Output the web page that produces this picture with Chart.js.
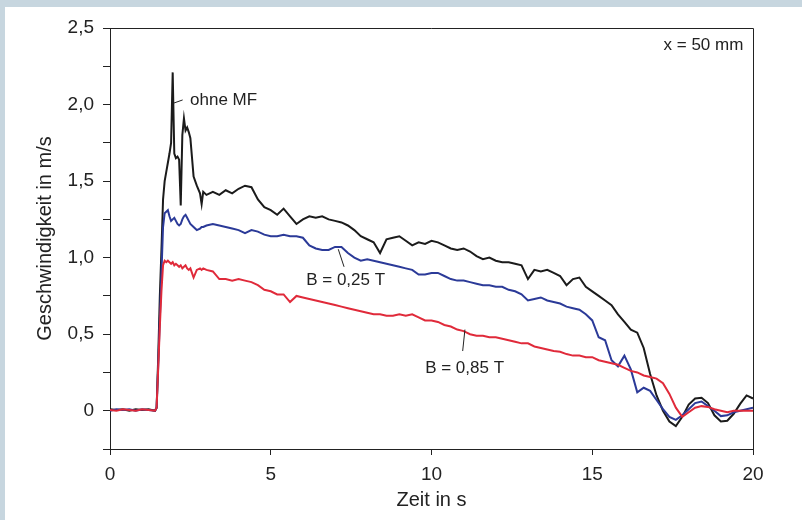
<!DOCTYPE html>
<html>
<head>
<meta charset="utf-8">
<script src="https://cdn.jsdelivr.net/npm/chart.js@4.4.1/dist/chart.umd.min.js"></script>
<style>
  html, body { margin: 0; padding: 0; background: #c7d6df; }
  #frame { width: 802px; height: 520px; overflow: hidden; }
  #myChart { display: block; margin: 7px 0 0 5px; background: #fff; }
</style>
</head>
<body>
<div id="frame"><canvas id="myChart" width="797" height="513"></canvas></div>
<script>
// Zeit in s (finer steps around the start-up peaks)
const zeit = [
	0, 0.2, 0.4, 0.6, 0.8, 1.0, 1.2, 1.4,
	1.45, 1.5, 1.55, 1.6, 1.65, 1.7, 1.75, 1.8, 1.85, 1.9, 1.95, 2.0, 2.05, 2.1, 2.15, 2.2, 2.25, 2.3, 2.35, 2.4, 2.45, 2.5,
	2.6, 2.7, 2.8, 2.85, 2.9, 3.0,
	3.2, 3.4, 3.6, 3.8, 4.0,
	4.2, 4.4, 4.6, 4.8, 5.0,
	5.2, 5.4, 5.6, 5.8, 6.0,
	6.2, 6.4, 6.6, 6.8, 7.0,
	7.2, 7.4, 7.6, 7.8, 8.0,
	8.2, 8.4, 8.6, 8.8, 9.0,
	9.2, 9.4, 9.6, 9.8, 10.0,
	10.2, 10.4, 10.6, 10.8, 11.0,
	11.2, 11.4, 11.6, 11.8, 12.0,
	12.2, 12.4, 12.6, 12.8, 13.0,
	13.2, 13.4, 13.6, 13.8, 14.0,
	14.2, 14.4, 14.6, 14.8, 15.0,
	15.2, 15.4, 15.6, 15.8, 16.0,
	16.2, 16.4, 16.6, 16.8, 17.0,
	17.2, 17.4, 17.6, 17.8, 18.0,
	18.2, 18.4, 18.6, 18.8, 19.0,
	19.2, 19.4, 19.6, 19.8, 20.0
];

// Geschwindigkeit in m/s, ohne Magnetfeld
const ohneMF = [
	0.01, 0.005, 0.01, 0.0, 0.01, 0.005, 0.01, 0.0,
	0.02, 0.35, 0.75, 1.05, 1.38, 1.50, 1.56, 1.62, 1.68, 1.75, 2.21, 1.68, 1.65, 1.66, 1.64, 1.34, 1.80, 1.91, 1.83, 1.85, 1.82, 1.78,
	1.53, 1.47, 1.42, 1.35, 1.43, 1.41,
	1.43, 1.41, 1.44, 1.42, 1.45,
	1.47, 1.46, 1.38, 1.33, 1.31,
	1.28, 1.32, 1.27, 1.22, 1.25,
	1.27, 1.26, 1.27, 1.25, 1.24,
	1.23, 1.21, 1.18, 1.14, 1.12,
	1.10, 1.03, 1.12, 1.13, 1.14,
	1.11, 1.08, 1.10, 1.09, 1.11,
	1.10, 1.08, 1.06, 1.05, 1.06,
	1.04, 1.01, 0.99, 1.00, 0.98,
	0.97, 0.97, 0.96, 0.95, 0.86,
	0.92, 0.91, 0.92, 0.90, 0.88,
	0.82, 0.86, 0.87, 0.81, 0.78,
	0.75, 0.72, 0.69, 0.63, 0.58,
	0.53, 0.51, 0.41, 0.24, 0.10,
	0.0, -0.07, -0.10, -0.04, 0.04,
	0.08, 0.085, 0.05, -0.03, -0.07,
	-0.065, -0.02, 0.045, 0.10, 0.08
];

// B = 0,25 T
const b025 = [
	0.0, 0.01, 0.005, 0.01, 0.0, 0.01, 0.005, 0.0,
	0.02, 0.3, 0.6, 0.9, 1.2, 1.29, 1.30, 1.31, 1.27, 1.24, 1.25, 1.26, 1.24, 1.22, 1.21, 1.22, 1.25, 1.27, 1.28, 1.26, 1.24, 1.22,
	1.20, 1.18, 1.19, 1.20, 1.20, 1.21,
	1.22, 1.21, 1.20, 1.19, 1.18,
	1.16, 1.18, 1.17, 1.15, 1.14,
	1.14, 1.15, 1.14, 1.14, 1.13,
	1.08, 1.06, 1.05, 1.05, 1.07,
	1.07, 1.03, 1.00, 0.98, 0.99,
	0.98, 0.97, 0.96, 0.95, 0.94,
	0.93, 0.92, 0.89, 0.89, 0.90,
	0.90, 0.88, 0.86, 0.85, 0.85,
	0.84, 0.83, 0.82, 0.82, 0.81,
	0.81, 0.79, 0.78, 0.76, 0.72,
	0.73, 0.74, 0.72, 0.71, 0.70,
	0.68, 0.67, 0.66, 0.63, 0.59,
	0.48, 0.46, 0.33, 0.29, 0.36,
	0.27, 0.12, 0.15, 0.13, 0.07,
	0.01, -0.04, -0.06, -0.03, 0.01,
	0.05, 0.06, 0.03, 0.0, -0.035,
	-0.03, -0.01, 0.0, 0.01, 0.02
];

// B = 0,85 T
const b085 = [
	0.005, 0.0, 0.01, 0.005, 0.0, 0.01, 0.005, 0.0,
	0.02, 0.28, 0.55, 0.78, 0.95, 0.98, 0.97, 0.98, 0.97, 0.96, 0.97, 0.95, 0.96, 0.95, 0.94, 0.95, 0.93, 0.94, 0.95, 0.93, 0.92, 0.93,
	0.87, 0.92, 0.93, 0.92, 0.93, 0.92,
	0.91, 0.86, 0.86, 0.85, 0.86,
	0.85, 0.84, 0.82, 0.79, 0.78,
	0.76, 0.76, 0.71, 0.75, 0.74,
	0.73, 0.72, 0.71, 0.70, 0.69,
	0.68, 0.67, 0.66, 0.65, 0.64,
	0.63, 0.63, 0.62, 0.62, 0.63,
	0.62, 0.63, 0.61, 0.59, 0.59,
	0.58, 0.56, 0.55, 0.53, 0.52,
	0.50, 0.49, 0.49, 0.48, 0.48,
	0.47, 0.46, 0.45, 0.44, 0.44,
	0.42, 0.41, 0.40, 0.39, 0.385,
	0.37, 0.36, 0.36, 0.35, 0.35,
	0.33, 0.32, 0.31, 0.30, 0.28,
	0.26, 0.25, 0.23, 0.22, 0.21,
	0.18, 0.11, 0.02, -0.04, -0.01,
	0.02, 0.03, 0.025, 0.01, 0.0,
	-0.01, 0.0, 0.0, 0.0, 0.0
];

const FONT = '"Liberation Sans", Arial, Helvetica, sans-serif';
const INK = '#222';

/** Text labels inside the plot, placed in data units (Zeit, Geschwindigkeit) */
const notes = [
	{ text: 'ohne MF', t: 2.49, v: 2.03, align: 'left' },
	{ text: 'B = 0,25 T', t: 7.33, v: 0.85, align: 'center' },
	{ text: 'B = 0,85 T', t: 11.03, v: 0.28, align: 'center' },
	{ text: 'x = 50 mm', t: 19.7, v: 2.39, align: 'right' }
];
// leader lines [t1, v1, t2, v2]
const leaders = [
	[1.99, 2.01, 2.26, 2.03],
	[7.10, 1.055, 7.28, 0.94],
	[11.04, 0.53, 10.97, 0.39]
];

/** Draws the closed plot frame and the curve labels */
const notesPlugin = {
	id: 'notes',
	afterDatasetsDraw(chart) {
		const ctx = chart.ctx;
		const xs = chart.scales.x, ys = chart.scales.y;
		const a = chart.chartArea;
		ctx.save();
		ctx.strokeStyle = INK;
		ctx.lineWidth = 1;
		ctx.beginPath();
		ctx.moveTo(Math.round(a.left), Math.round(a.top) + 0.5);
		ctx.lineTo(Math.round(a.right) + 0.5, Math.round(a.top) + 0.5);
		ctx.lineTo(Math.round(a.right) + 0.5, Math.round(a.bottom));
		ctx.stroke();

		leaders.forEach(function(l) {
			ctx.beginPath();
			ctx.moveTo(xs.getPixelForValue(l[0]), ys.getPixelForValue(l[1]));
			ctx.lineTo(xs.getPixelForValue(l[2]), ys.getPixelForValue(l[3]));
			ctx.stroke();
		});

		ctx.fillStyle = INK;
		ctx.font = '17px ' + FONT;
		ctx.textBaseline = 'middle';
		notes.forEach(function(n) {
			ctx.textAlign = n.align;
			ctx.fillText(n.text, xs.getPixelForValue(n.t), ys.getPixelForValue(n.v));
		});
		ctx.restore();
	}
};

function points(values) {
	return zeit.map(function(t, i) { return { x: t, y: values[i] }; });
}

function lineSet(label, values, color) {
	return {
		label: label,
		data: points(values),
		borderColor: color,
		borderWidth: 2,
		pointRadius: 0,
		tension: 0,
		fill: false
	};
}

const ctx = document.getElementById('myChart').getContext('2d');
const myChart = new Chart(ctx, {
	type: 'line',
	data: {
		// first dataset is drawn on top
		datasets: [
			lineSet('B = 0,85 T', b085, '#e02a3a'),
			lineSet('B = 0,25 T', b025, '#2b3a98'),
			lineSet('ohne MF', ohneMF, '#1b1b1b')
		]
	},
	options: {
		responsive: false,
		animation: false,
		devicePixelRatio: 1,
		layout: { padding: { top: 21, right: 49, left: 0, bottom: 0 } },
		plugins: {
			legend: { display: false },
			tooltip: { enabled: false }
		},
		scales: {
			x: {
				type: 'linear',
				min: 0,
				max: 20,
				afterFit: function(scale) { scale.height = 71; },
				border: { display: true, color: INK, width: 1 },
				grid: { drawOnChartArea: false, drawTicks: true, tickLength: 6, color: INK },
				ticks: {
					stepSize: 5,
					padding: 8,
					color: INK,
					font: { family: FONT, size: 19 },
					maxRotation: 0
				},
				title: {
					display: true,
					text: 'Zeit in s',
					color: INK,
					font: { family: FONT, size: 20 },
					padding: { top: 0, bottom: 8 }
				}
			},
			y: {
				min: -0.25,
				max: 2.5,
				afterFit: function(scale) { scale.width = 105; },
				border: { display: true, color: INK, width: 1 },
				grid: { drawOnChartArea: false, drawTicks: true, tickLength: 7, color: INK },
				ticks: {
					stepSize: 0.25,
					autoSkip: false,
					padding: 9,
					color: INK,
					font: { family: FONT, size: 19 },
					callback: function(value) {
						const half = value * 2;
						if (value < 0 || Math.abs(half - Math.round(half)) > 1e-6) return '';
						if (Math.abs(value) < 1e-6) return '0';
						return value.toFixed(1).replace('.', ',');
					}
				},
				title: {
					display: true,
					text: 'Geschwindigkeit in m/s',
					color: INK,
					font: { family: FONT, size: 20 },
					padding: { top: 28, bottom: 0 }
				}
			}
		}
	},
	plugins: [notesPlugin]
});
</script>
</body>
</html>
